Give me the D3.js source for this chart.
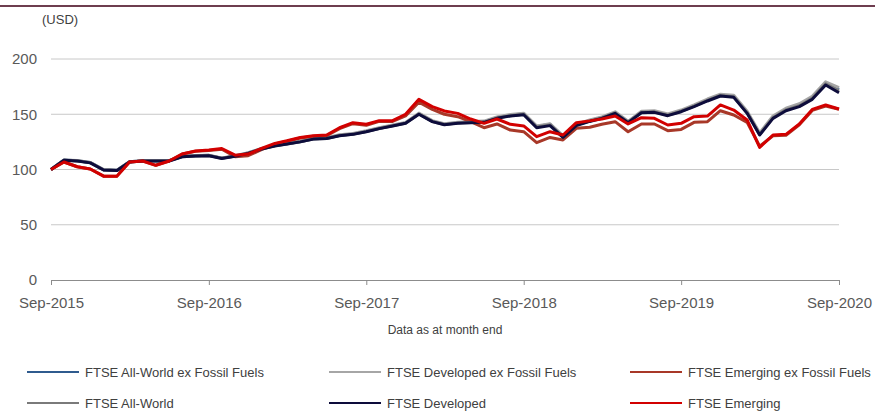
<!DOCTYPE html>
<html>
<head>
<meta charset="utf-8">
<title>FTSE ex Fossil Fuels</title>
<script src="https://cdn.jsdelivr.net/npm/d3@7"></script>
<style>
  body { margin: 0; background: #fff; }
  svg { display: block; font-family: "Liberation Sans", Arial, sans-serif; }
</style>
</head>
<body>
<div id="container"></div>
<script>
// month-end index levels, Sep-2015 = 100
var months = d3.timeMonth.range(new Date(2015, 8, 1), new Date(2020, 9, 1));

var allWorldExFF = [100,108.5,108,106.3,99.8,99.3,107,108,108,108,111.8,112.5,112.8,110.3,112.3,115,118.8,121.6,123.3,125.3,127.8,128.3,131,132.2,134.6,137.4,139.8,142.2,150.5,143.8,141,142.3,143,143.3,147,149.2,150.5,139,141,130,140.4,144.2,147,151.5,143,152,152.3,149.4,153,157.6,162.8,167.3,166.2,151.8,132.2,147.5,154.5,158.3,165,178,172.5];
var devExFF      = [100,108.6,108.1,106.4,99.9,99.4,107.1,108.1,108.2,108.2,112,112.7,113,110.5,112.5,115.2,119,121.9,123.6,125.6,128.1,128.7,131.4,132.6,135,137.8,140.2,142.6,151,144.2,141.4,142.7,143.4,143.8,147.5,149.7,151,139.4,141.4,130.6,141,144.8,147.6,152.2,143.6,152.8,153.2,150.2,153.8,158.5,163.8,168.2,167.2,152.8,133.2,148.4,155.5,159.5,166.3,179.3,174];
var emgExFF      = [100,106.8,102.5,100.5,94,94,106.8,107.7,103.8,107.7,114,116.5,117.3,118.3,111.5,112.5,118,123,125.5,128.5,130,130.5,137,141.5,140,143.5,143.5,148.5,161,154.4,150,147.8,143.3,137.8,141.2,135.7,134.2,124.3,129,126.7,137.3,138.2,140.9,143.3,134.2,141.2,141.2,135.1,136.3,142.7,143.3,153.2,149.3,142.7,121,130.5,131,140.5,153.5,157.5,154.5];
var allWorld     = [100,108.4,107.8,106.1,99.6,99.1,106.9,107.8,107.8,107.8,111.6,112.3,112.6,110.1,112.1,114.7,118.6,121.4,123.1,125.1,127.6,128.1,130.7,131.9,134.3,137.1,139.5,141.9,150.2,143.5,140.7,142,142.6,142.9,146.6,148.7,150,138.5,140.4,129.6,140.1,143.9,146.7,151.2,142.8,151.8,152.1,149.1,152.7,157.3,162.5,167,165.8,151.3,131.7,146.9,154,157.7,164.4,177.5,171];
var developed    = [100,108.3,107.7,106,99.5,99,106.8,107.7,107.7,107.7,111.5,112.2,112.5,110,112,114.6,118.5,121.3,123,125,127.5,128,130.6,131.8,134.2,137,139.4,141.8,150,143.3,140.5,141.8,142.4,142.7,146.3,148.4,149.6,137.8,139.7,129,139.7,143.5,146.3,150.8,142.4,151.4,151.7,148.7,152.3,156.9,162,166.5,165.3,150.8,131.2,146.3,153.2,156.9,163.5,176.5,169.5];
var emerging     = [100,106.8,102.5,100.5,94,94,106.8,107.7,103.8,107.7,114,116.7,117.6,119,113,114,119,123.6,126,129,130.6,131.2,137.8,142.4,140.9,144.2,144.2,150,163.5,156.9,153,150.8,145.7,141.8,145.7,140.9,139.4,129.7,134.2,131.2,142.4,144,145.7,148.4,141.2,146.9,146.3,140.3,141.8,147.8,148.4,158.4,153.8,144.8,120,131.2,131.8,141.2,154.4,158.4,154.8];

var seriesNames  = ["FTSE All-World ex Fossil Fuels", "FTSE Developed ex Fossil Fuels", "FTSE Emerging ex Fossil Fuels",
                    "FTSE All-World", "FTSE Developed", "FTSE Emerging"];
var seriesValues = [allWorldExFF, devExFF, emgExFF, allWorld, developed, emerging];
var seriesColors = ["#2f5b8e", "#a6a6a6", "#a83828", "#7a7a7a", "#0d0c3b", "#d20000"];

var yTicks = [0, 50, 100, 150, 200];
var xTicks = [new Date(2015,8,1), new Date(2016,8,1), new Date(2017,8,1), new Date(2018,8,1), new Date(2019,8,1), new Date(2020,8,1)];

var W = 875, H = 412;
var svg = d3.select("#container").append("svg")
    .attr("width", W).attr("height", H);

// maroon rule at top
svg.append("line")
    .attr("x1", 0).attr("x2", W).attr("y1", 6).attr("y2", 6)
    .attr("stroke", "#6e3d4f").attr("stroke-width", 2);

var x = d3.scaleTime().domain([months[0], months[months.length-1]]).range([51, 839]);
var y = d3.scaleLinear().domain([0, 200]).range([280, 59]);

svg.append("text")
    .attr("x", 42).attr("y", 24)
    .attr("font-size", 13).attr("fill", "#404040")
    .text("(USD)");

// grid
svg.append("g").selectAll("line")
    .data(yTicks.filter(function(d){ return d > 0; }))
  .enter().append("line")
    .attr("x1", 51).attr("x2", 839)
    .attr("y1", function(d){ return y(d); })
    .attr("y2", function(d){ return y(d); })
    .attr("stroke", "#c8c8c8").attr("stroke-width", 1);

// y labels
svg.append("g").selectAll("text")
    .data(yTicks)
  .enter().append("text")
    .attr("x", 37)
    .attr("y", function(d){ return y(d); })
    .attr("dy", "0.36em")
    .attr("text-anchor", "end")
    .attr("font-size", 15).attr("fill", "#595959")
    .text(function(d){ return d; });

// x axis
var xAxis = svg.append("g")
    .attr("transform", "translate(0," + y(0) + ")")
    .call(d3.axisBottom(x).tickValues(xTicks).tickSize(5).tickSizeOuter(0).tickPadding(12)
          .tickFormat(d3.timeFormat("%b-%Y")));
xAxis.select(".domain").attr("stroke", "#8c8c8c");
xAxis.selectAll(".tick line").attr("stroke", "#8c8c8c");
xAxis.selectAll(".tick text")
    .attr("font-size", 15).attr("fill", "#595959")
    .attr("font-family", "Liberation Sans, Arial, sans-serif");

svg.append("text")
    .attr("x", 445).attr("y", 334)
    .attr("text-anchor", "middle")
    .attr("font-size", 12).attr("fill", "#404040")
    .text("Data as at month end");

// lines
var line = d3.line()
    .x(function(d, i){ return x(months[i]); })
    .y(function(d){ return y(d); });

svg.append("g").selectAll("path")
    .data(seriesValues)
  .enter().append("path")
    .attr("d", line)
    .attr("fill", "none")
    .attr("stroke", function(d, i){ return seriesColors[i]; })
    .attr("stroke-width", 3)
    .attr("stroke-linejoin", "round");

// legend
var legX = [27, 329, 630], legY = [372, 403];
var leg = svg.append("g").selectAll("g")
    .data(seriesNames)
  .enter().append("g")
    .attr("transform", function(d, i){ return "translate(" + legX[i % 3] + "," + legY[Math.floor(i / 3)] + ")"; });
leg.append("line")
    .attr("x1", 0).attr("x2", 52)
    .attr("stroke", function(d, i){ return seriesColors[i]; })
    .attr("stroke-width", 2);
leg.append("text")
    .attr("x", 58).attr("dy", "0.36em")
    .attr("font-size", 13).attr("fill", "#404040")
    .text(function(d){ return d; });
</script>
</body>
</html>
